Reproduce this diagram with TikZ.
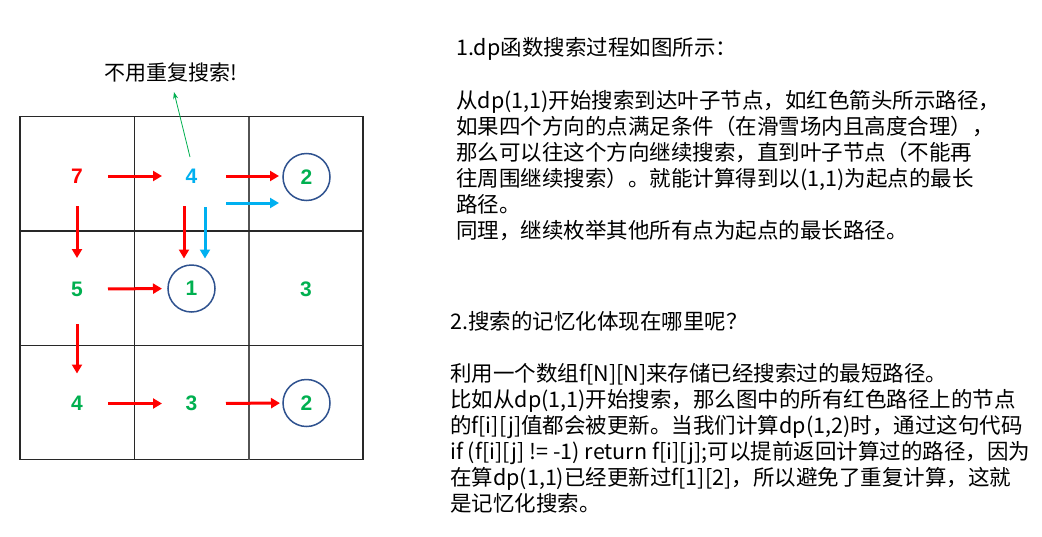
\documentclass[tikz,border=0pt]{standalone}
\usepackage{fontspec}
\newfontfamily\cjk{Noto Sans CJK SC}
\newfontfamily\numfont{Liberation Sans}
\usetikzlibrary{arrows.meta}
\definecolor{cred}{RGB}{255,0,0}
\definecolor{ccyan}{RGB}{0,176,240}
\definecolor{cgreen}{RGB}{0,176,80}
\definecolor{cblue}{RGB}{47,82,143}
\definecolor{cgrid}{RGB}{40,40,40}
\tikzset{
  num/.style={font=\numfont\bfseries\fontsize{21}{24}\selectfont, inner sep=0pt, minimum size=47pt, circle},
  ring/.style={num, draw=cblue, line width=1.5pt},
  redarr/.style={draw=cred, line width=3pt, -{Triangle[length=9pt,width=10pt]}},
  cyanarr/.style={draw=ccyan, line width=3pt, -{Triangle[length=9pt,width=10pt]}},
  greenarr/.style={draw=cgreen, line width=0.8pt, -{Stealth[length=7pt,width=5pt]}},
  txt/.style={font=\cjk\fontsize{21.5}{26}\selectfont, anchor=base west, inner sep=0pt},
}
\begin{document}
\begin{tikzpicture}[x=1pt,y=-1pt]
\useasboundingbox (0,0) rectangle (1042,536);
\fill[white] (0,0) rectangle (1042,536);
% grid
\draw[cgrid, line width=1.3pt] (20,116.5) rectangle (363,459.5);
\draw[cgrid, line width=1.3pt] (134.5,116.5) -- (134.5,459.5);
\draw[cgrid!80, line width=1.6pt] (249,116.5) -- (249,459.5);
\draw[cgrid, line width=1.3pt] (20,231) -- (363,231);
\draw[cgrid, line width=1.3pt] (20,345.5) -- (363,345.5);
% numbers
\node[num, text=cred]  (n7)  at (77,176)   {7};
\node[num, text=ccyan] (n4)  at (191.5,176) {4};
\node[ring, text=cgreen] (n2a) at (306.5,177) {2};
\node[num, text=cgreen] (n5) at (77,289) {5};
\node[ring, text=cgreen] (n1) at (191.5,288.5) {1};
\node[num, text=cgreen] (n3a) at (306,289) {3};
\node[num, text=cgreen] (n4b) at (77,403.5) {4};
\node[num, text=cgreen] (n3b) at (191.5,403.5) {3};
\node[ring, text=cgreen] (n2b) at (306.5,403) {2};
% red arrows
\draw[redarr, shorten <=31pt, shorten >=29.5pt] (n7.center) -- (n4.center);
\draw[redarr, shorten <=34.5pt, shorten >=27.5pt] (n4.center) -- ([yshift=1pt]n2a.center);
\draw[redarr, shorten <=30pt, shorten >=31pt] (n7.center) -- (n5.center);
\draw[redarr, shorten <=30pt, shorten >=30pt] ([xshift=-7.5pt]n4.center) -- ([xshift=-7.5pt]n1.center);
\draw[redarr, shorten <=31pt, shorten >=29.5pt] (n5.center) -- (n1.center);
\draw[redarr, shorten <=35pt, shorten >=30pt] (n5.center) -- (n4b.center);
\draw[redarr, shorten <=31pt, shorten >=29.5pt] (n4b.center) -- (n3b.center);
\draw[redarr, shorten <=34.5pt, shorten >=26.5pt] (n3b.center) -- (n2b.center);
% cyan arrows
\draw[cyanarr, shorten <=34.5pt, shorten >=27.5pt] ([yshift=-27pt]n4.center) -- ([yshift=-26pt]n2a.center);
\draw[cyanarr, shorten <=31pt, shorten >=30pt] ([xshift=13.5pt]n4.center) -- ([xshift=13.5pt]n1.center);
% note
\node[font=\cjk\fontsize{21}{24}\selectfont, inner sep=1pt] (warn) at (171,73) {不用重复搜索!};
\coordinate (gs) at (190,157);
\coordinate (ge) at (174,92);
\draw[greenarr] (gs) -- (ge);
% text block 1
\node[txt] (t1) at (456,55) {1.dp函数搜索过程如图所示：};
\node[txt] (t2) at (456,108) {从dp(1,1)开始搜索到达叶子节点，如红色箭头所示路径，};
\node[txt] (t3) at (456,134) {如果四个方向的点满足条件（在滑雪场内且高度合理），};
\node[txt] (t4) at (456,160) {那么可以往这个方向继续搜索，直到叶子节点（不能再};
\node[txt] (t5) at (456,186) {往周围继续搜索）。就能计算得到以(1,1)为起点的最长};
\node[txt] (t6) at (456,212) {路径。};
\node[txt] (t7) at (456,238) {同理，继续枚举其他所有点为起点的最长路径。};
% text block 2
\node[txt] (s1) at (450,329) {2.搜索的记忆化体现在哪里呢？};
\node[txt] (s2) at (450,381) {利用一个数组f[N][N]来存储已经搜索过的最短路径。};
\node[txt] (s3) at (450,407) {比如从dp(1,1)开始搜索，那么图中的所有红色路径上的节点};
\node[txt] (s4) at (450,433) {的f[i][j]值都会被更新。当我们计算dp(1,2)时，通过这句代码};
\node[txt] (s5) at (450,459) {if (f[i][j] != -1) return f[i][j];可以提前返回计算过的路径，因为};
\node[txt] (s6) at (450,485) {在算dp(1,1)已经更新过f[1][2]，所以避免了重复计算，这就};
\node[txt] (s7) at (450,511) {是记忆化搜索。};
\end{tikzpicture}
\end{document}
